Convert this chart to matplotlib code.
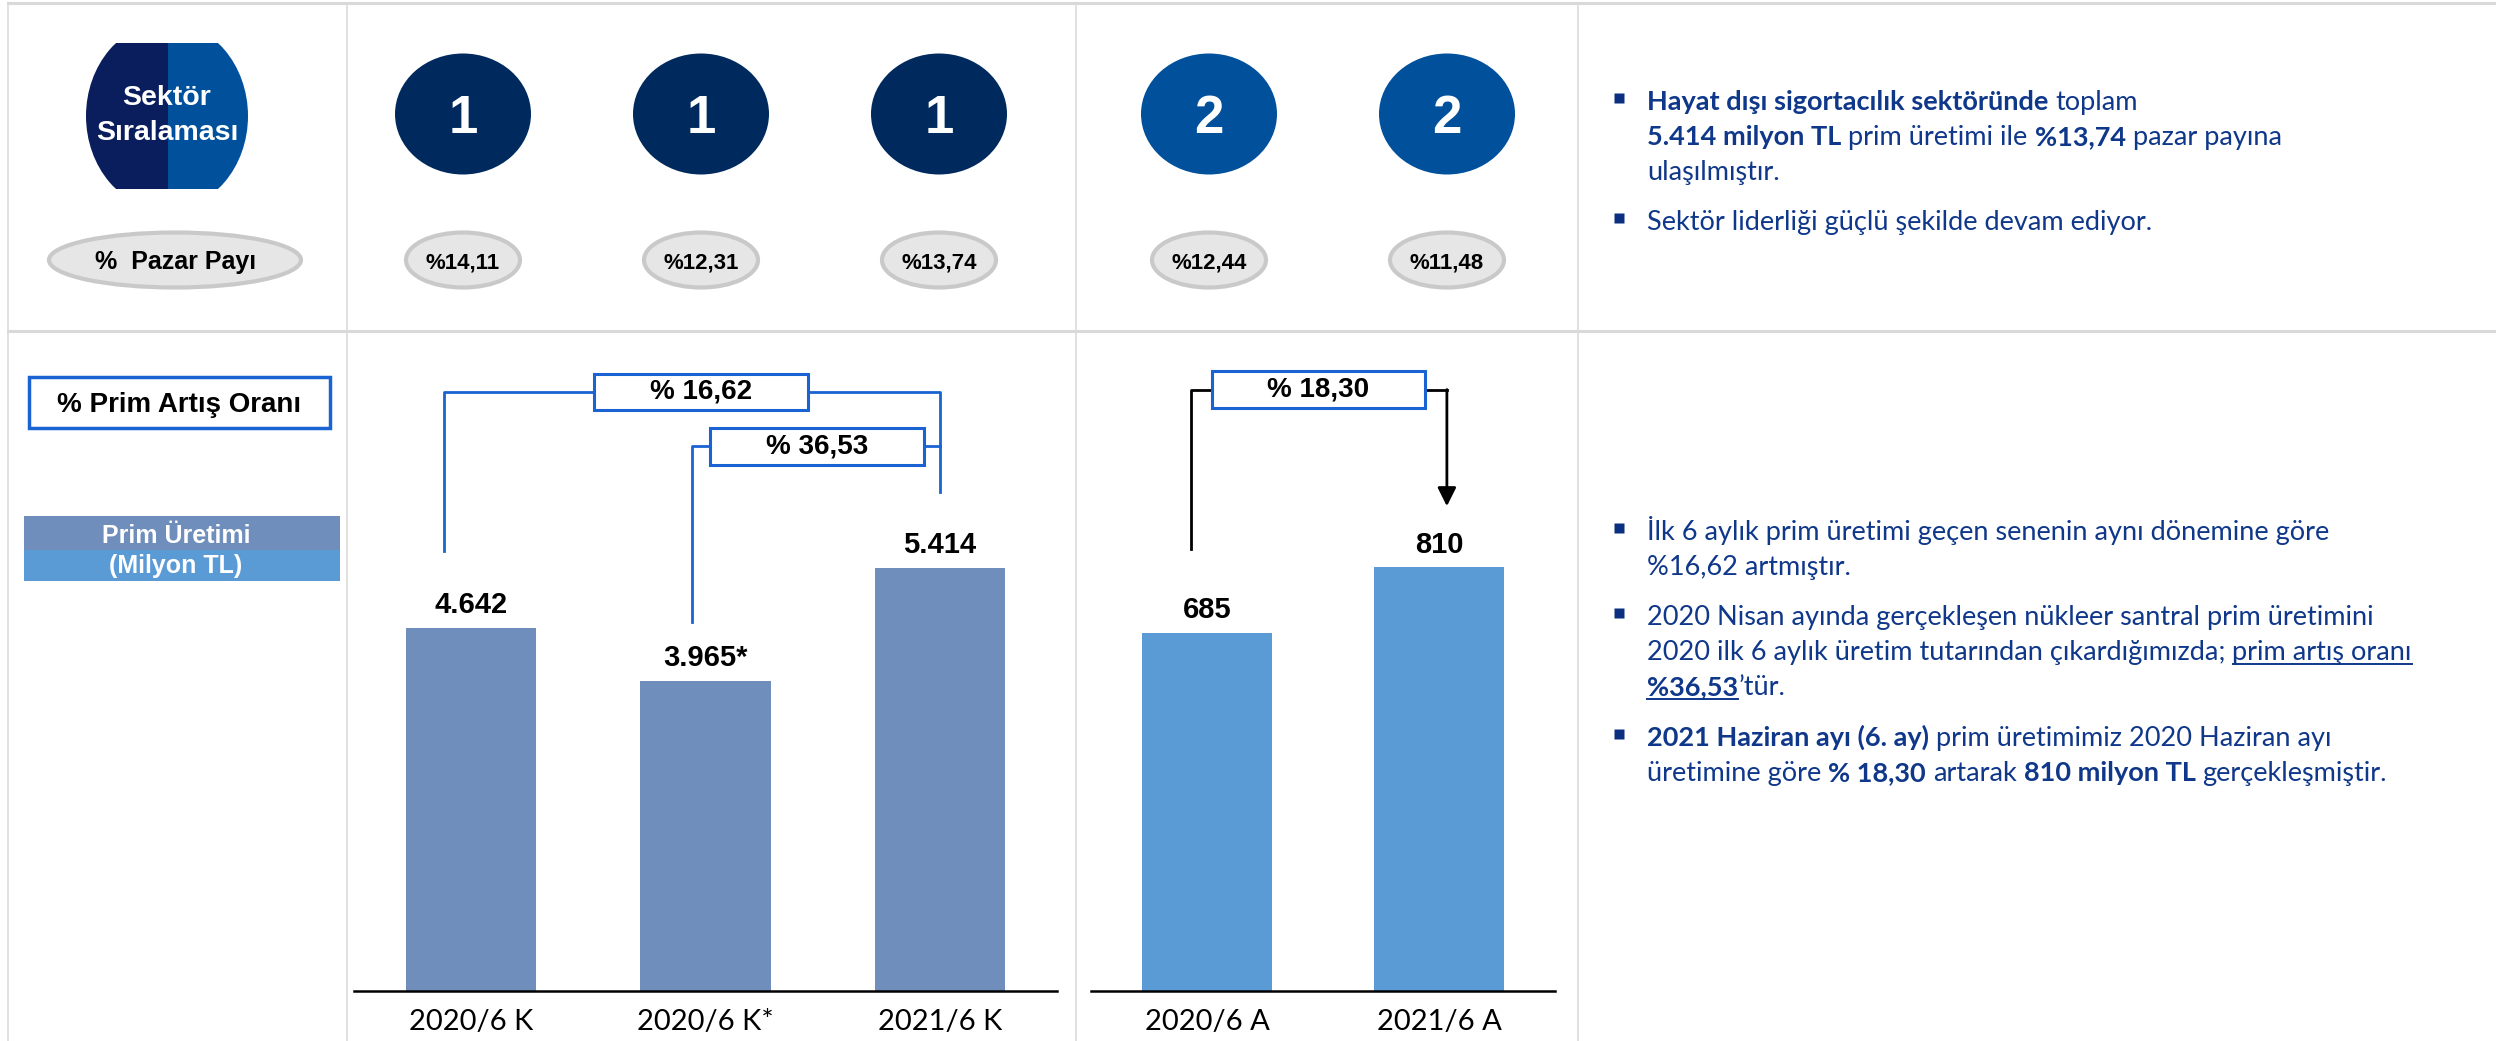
import matplotlib
matplotlib.use('Agg')
import matplotlib.pyplot as plt
from matplotlib.patches import Ellipse, Rectangle

W, H = 2496, 1041
ARIAL = ['Liberation Sans', 'DejaVu Sans']
CALIBRI = ['Lato', 'DejaVu Sans']

# ---- data ----
rank_labels = ['1', '1', '1', '2', '2']
market_share = ['%14,11', '%12,31', '%13,74', '%12,44', '%11,48']

k_periods = ['2020/6 K', '2020/6 K*', '2021/6 K']
k_values = [4642, 3965, 5414]
k_value_labels = ['4.642', '3.965*', '5.414']

a_periods = ['2020/6 A', '2021/6 A']
a_values = [685, 810]
a_value_labels = ['685', '810']

growth_total = '% 16,62'
growth_adjusted = '% 36,53'
growth_june = '% 18,30'

# colours
NAVY = '#002a5e'
BLUE = '#00509c'
BAR_K = '#6f8ebb'
BAR_A = '#5b9bd5'
LINE_BLUE = '#1a63d2'
TEXT_BLUE = '#0f378a'
GRID = '#d9d9d9'

fig = plt.figure(figsize=(W / 100, H / 100), dpi=100)
ov = fig.add_axes([0, 0, 1, 1])
ov.set_xlim(0, W)
ov.set_ylim(H, 0)
ov.axis('off')

# table grid
ov.plot([8, W], [3, 3], color=GRID, lw=2.2)
ov.plot([8, W], [331, 331], color=GRID, lw=2.2)
for gx in [8, 347, 1076, 1578]:
    ov.plot([gx, gx], [3, H], color=GRID, lw=1.1)

# "Sektör Sıralaması" badge, two tone
badge = Ellipse((167, 116), 162, 188, transform=ov.transData, visible=False)
ov.add_patch(badge)
for x0, col in [(86, '#0a1e5e'), (168, BLUE)]:
    r = Rectangle((x0, 43), 82, 146, facecolor=col, edgecolor='none')
    ov.add_patch(r)
    r.set_clip_path(badge)
ov.text(167, 105, 'Sektör', color='white', fontsize=20.5, fontweight='bold',
        family=ARIAL, ha='center', va='baseline')
ov.text(167, 140, 'Sıralaması', color='white', fontsize=20.5, fontweight='bold',
        family=ARIAL, ha='center', va='baseline')

# rank ovals and market share pills
rank_x = [463, 701, 939, 1209, 1447]
for i, (lab, share) in enumerate(zip(rank_labels, market_share)):
    col = NAVY if lab == '1' else BLUE
    ov.add_patch(Ellipse((rank_x[i], 114), 136, 121, facecolor=col, edgecolor='none'))
    ov.text(rank_x[i], 133, lab, color='white', fontsize=38, fontweight='bold',
            family=ARIAL, ha='center', va='baseline')
    ov.add_patch(Ellipse((rank_x[i], 260), 114, 55, facecolor='#e6e6e6',
                         edgecolor='#c9c9c9', lw=3))
    ov.text(rank_x[i], 268, share, color='black', fontsize=16, fontweight='bold',
            family=ARIAL, ha='center', va='baseline')

ov.add_patch(Ellipse((175, 260), 252, 55, facecolor='#e6e6e6', edgecolor='#c9c9c9', lw=3))
ov.text(176, 269, '%  Pazar Payı', color='black', fontsize=18, fontweight='bold',
        family=ARIAL, ha='center', va='baseline')

# left legend boxes
ov.add_patch(Rectangle((29, 377), 301, 51, facecolor='white', edgecolor=LINE_BLUE, lw=2.5))
ov.text(179, 412, '% Prim Artış Oranı', color='black', fontsize=20, fontweight='bold',
        family=ARIAL, ha='center', va='baseline')
ov.add_patch(Rectangle((24, 516), 316, 34, facecolor=BAR_K, edgecolor='none'))
ov.add_patch(Rectangle((24, 550), 316, 31, facecolor=BAR_A, edgecolor='none'))
ov.text(176, 543, 'Prim Üretimi', color='white', fontsize=18, fontweight='bold',
        family=ARIAL, ha='center', va='baseline')
ov.text(176, 573, '(Milyon TL)', color='white', fontsize=18, fontweight='bold',
        family=ARIAL, ha='center', va='baseline')


# ---- bar charts ----
def px_axes(left, right, top, bottom):
    return fig.add_axes([left / W, 1 - bottom / H, (right - left) / W, (bottom - top) / H])


def style_bars(ax, periods):
    ax.set_facecolor('none')
    for s in ['top', 'left', 'right']:
        ax.spines[s].set_visible(False)
    ax.spines['bottom'].set_linewidth(1.8)
    ax.spines['bottom'].set_color('black')
    ax.set_yticks([])
    ax.set_xticks(range(len(periods)), periods, fontsize=21, family=CALIBRI)
    ax.tick_params(axis='x', length=0, pad=13)


ax_k = px_axes(354, 1057, 331, 991)
ax_k.bar(range(3), k_values, width=0.555, color=BAR_K, zorder=2)
ax_k.set_xlim(-0.5, 2.5)
ax_k.set_ylim(0, 8440)
style_bars(ax_k, k_periods)
for i, (v, lab) in enumerate(zip(k_values, k_value_labels)):
    ax_k.annotate(lab, (i, v), xytext=(0, 10.5), textcoords='offset points',
                  ha='center', va='baseline', fontsize=21, fontweight='bold', family=ARIAL)

ax_a = px_axes(1091, 1555, 331, 991)
ax_a.bar(range(2), a_values, width=0.56, color=BAR_A, zorder=2)
ax_a.set_xlim(-0.5, 1.5)
ax_a.set_ylim(0, 1262)
style_bars(ax_a, a_periods)
for i, (v, lab) in enumerate(zip(a_values, a_value_labels)):
    ax_a.annotate(lab, (i, v), xytext=(0, 10.5), textcoords='offset points',
                  ha='center', va='baseline', fontsize=21, fontweight='bold', family=ARIAL)


def label_box(ax, cx, cy, w, h, text):
    ax.add_patch(Rectangle((cx - w / 2, cy - h / 2), w, h, facecolor='white',
                           edgecolor=LINE_BLUE, lw=2.2, zorder=5))
    ax.text(cx, cy, text, ha='center', va='center', fontsize=20, fontweight='bold',
            family=ARIAL, zorder=6)


# brackets on the cumulative chart (data units of ax_k)
lvl_total, lvl_adj = 7660, 6965
ax_k.plot([-0.115, -0.115, 2.0, 2.0], [k_values[0] + 985, lvl_total, lvl_total, k_values[2] + 967],
          color=LINE_BLUE, lw=2, zorder=4)
ax_k.plot([0.943, 0.943, 2.0], [k_values[1] + 754, lvl_adj, lvl_adj],
          color=LINE_BLUE, lw=2, zorder=4)
label_box(ax_k, 0.98, lvl_total, 0.913, 473, growth_total)
label_box(ax_k, 1.477, lvl_adj, 0.913, 473, growth_adjusted)

# bracket on the June chart (data units of ax_a)
lvl_june = 1150
ax_a.plot([-0.069, -0.069, 1.034], [a_values[0] + 160, lvl_june, lvl_june],
          color='black', lw=2, zorder=4)
ax_a.annotate('', xy=(1.034, a_values[1] + 117), xytext=(1.034, lvl_june),
              arrowprops=dict(arrowstyle='-|>', color='black', lw=2,
                              mutation_scale=28, shrinkA=0, shrinkB=0), zorder=4)
label_box(ax_a, 0.48, lvl_june, 0.918, 70.7, growth_june)

# ---- commentary text, with mixed bold / underline runs ----
renderer = fig.canvas.get_renderer()
FS = 19.5


def text_width(s, bold):
    t = ov.text(0, 0, s, fontsize=FS, family=CALIBRI,
                fontweight='bold' if bold else 'normal')
    w = t.get_window_extent(renderer=renderer).width
    t.remove()
    return w


space_n = text_width('a a', False) - text_width('aa', False)
space_b = text_width('a a', True) - text_width('aa', True)


def draw_line(y, runs, bullet=False):
    if bullet:
        ov.plot(1618.5, y - 12, marker='s', markersize=7.5, color='#0a2f80', mec='none')
    x = 1647
    for txt, bold, ul in runs:
        sp = space_b if bold else space_n
        if txt.startswith(' '):
            x += sp
        s = txt.strip()
        t = ov.text(x, y, s, fontsize=FS, family=CALIBRI, color=TEXT_BLUE,
                    fontweight='bold' if bold else 'normal', ha='left', va='baseline')
        w = t.get_window_extent(renderer=renderer).width
        if ul:
            ov.plot([x, x + w], [y + 4, y + 4], color=TEXT_BLUE, lw=1.4)
        x += w
        if txt.endswith(' '):
            x += sp


draw_line(110, [('Hayat dışı sigortacılık sektöründe', True, False), (' toplam', False, False)], True)
draw_line(145, [('5.414 milyon TL', True, False), (' prim üretimi ile ', False, False),
                ('%13,74', True, False), (' pazar payına', False, False)])
draw_line(180, [('ulaşılmıştır.', False, False)])
draw_line(230, [('Sektör liderliği güçlü şekilde devam ediyor.', False, False)], True)

draw_line(540, [('İlk 6 aylık prim üretimi geçen senenin aynı dönemine göre', False, False)], True)
draw_line(575, [('%16,62 artmıştır.', False, False)])
draw_line(625, [('2020 Nisan ayında gerçekleşen nükleer santral prim üretimini', False, False)], True)
draw_line(660, [('2020 ilk 6 aylık üretim tutarından çıkardığımızda; ', False, False),
                ('prim artış oranı', False, True)])
draw_line(695, [('%36,53', True, True), ('’tür.', False, False)])
draw_line(746, [('2021 Haziran ayı (6. ay)', True, False),
                (' prim üretimimiz 2020 Haziran ayı', False, False)], True)
draw_line(781, [('üretimine göre ', False, False), ('% 18,30', True, False),
                (' artarak ', False, False), ('810 milyon TL', True, False),
                (' gerçekleşmiştir.', False, False)])

fig.savefig('out.png', dpi=100)
